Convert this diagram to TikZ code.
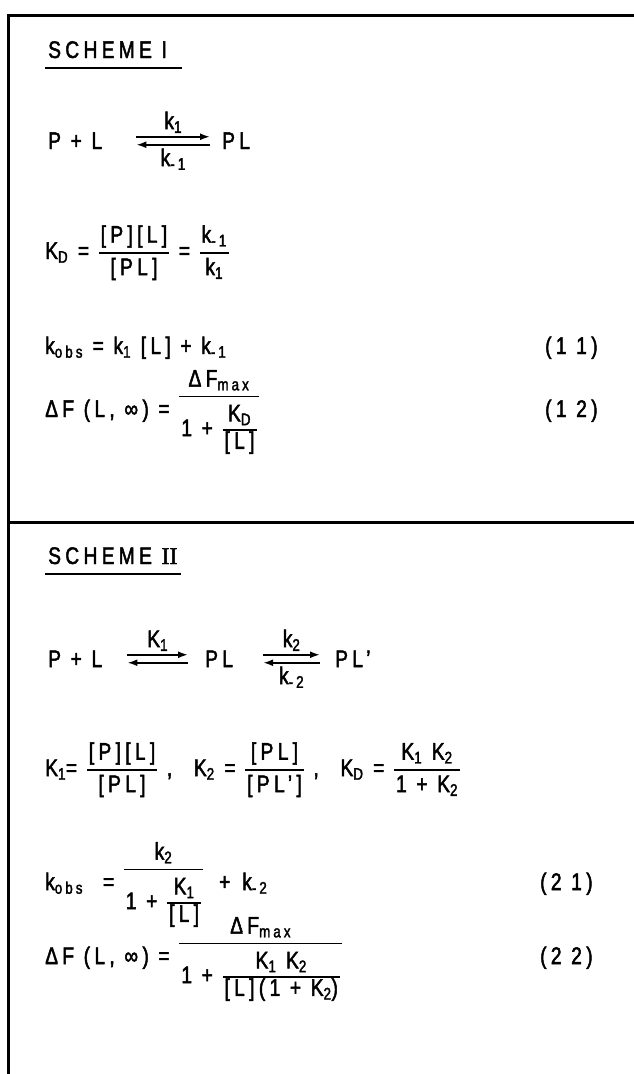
\documentclass[tikz,border=0pt]{standalone}
\usepackage{fontspec}
\setmainfont{Liberation Sans}[FakeStretch=0.8,FakeBold=2,LetterSpace=18]
\newfontfamily\romanfont{Liberation Serif}[FakeBold=2]
\usetikzlibrary{arrows.meta,positioning}

% fractions as two-row tables with a heavy rule between the rows
\setlength{\arrayrulewidth}{1.6pt}
\newcommand{\fr}[2]{{\renewcommand{\arraystretch}{1.1}\begin{tabular}[c]{@{\hspace{2pt}}c@{\hspace{2pt}}}#1\\\hline #2\end{tabular}}}
\newcommand{\frn}[2]{{\renewcommand{\arraystretch}{1.1}\begin{tabular}[c]{@{\hspace{2pt}}c@{\hspace{2pt}}}#1\\\hline\noalign{\vskip 6pt}#2\end{tabular}}}
\newcommand{\frin}[2]{{\renewcommand{\arraystretch}{0.92}\begin{tabular}[c]{@{\hspace{2pt}}c@{\hspace{2pt}}}#1\\\hline #2\end{tabular}}}
\newcommand{\lo}[1]{\textsubscript{#1}}

\begin{document}
\begin{tikzpicture}[x=1pt, y=-1pt,
        every node/.style={anchor=base west, inner sep=0pt, font=\fontsize{24}{28}\selectfont},
        frame/.style={line width=3pt},
        uline/.style={line width=2.5pt},
        eqarrow/.style={line width=1.8pt, -{Latex[length=10pt,width=7pt]}},
        rate/.style={inner sep=3pt}]
    \useasboundingbox (0,0) rectangle (634,1074);
    % frame
    \draw[frame] (634,15) -- (8,15) -- (8,1074);
    \draw[frame] (8,522) -- (634,522);

    % scheme I
    \node (s1) at (48,58) {SCHEME I};
    \draw[uline] ([xshift=-3pt,yshift=-10pt]s1.base west) -- ([xshift=15pt,yshift=-10pt]s1.base east);
    \node (r1a) at (48,149) {P + L};
    \node (r1b) at (222,149) {PL};
    \draw[eqarrow] ([xshift=34pt,yshift=4pt]r1a.east) -- ([xshift=-12pt,yshift=4pt]r1b.west)
        node[midway, above, rate] {k\lo{1}};
    \draw[eqarrow] ([xshift=-12pt,yshift=-4pt]r1b.west) -- ([xshift=34pt,yshift=-4pt]r1a.east)
        node[midway, below, rate] {k\lo{-1}};
    \node (kd1) at (45,259) {K\lo{D} = \fr{[P][L]}{[PL]} = \fr{k\lo{-1}}{k\lo{1}}};
    \node (ko1) at (45,354) {k\lo{obs} = k\lo{1} [L] + k\lo{-1}};
    \node (n11) at (545,354) {(1 1)};
    \node (df1) at (45,417) {ΔF (L, ∞) = \frn{ΔF\lo{max}}{1 + \frin{K\lo{D}}{[L]}}};
    \node (n12) at (545,417) {(1 2)};

    % scheme II
    \node (s2) at (48,564) {SCHEME {\romanfont II}};
    \draw[uline] ([xshift=-3pt,yshift=-10pt]s2.base west) -- ([xshift=3pt,yshift=-10pt]s2.base east);
    \node (r2a) at (48,667) {P + L};
    \node (r2b) at (205,667) {PL};
    \node (r2c) at (335,667) {PL'};
    \draw[eqarrow] ([xshift=25pt,yshift=4pt]r2a.east) -- ([xshift=-17pt,yshift=4pt]r2b.west)
        node[midway, above, rate] {K\lo{1}};
    \draw[eqarrow] ([xshift=-17pt,yshift=-4pt]r2b.west) -- ([xshift=25pt,yshift=-4pt]r2a.east);
    \draw[eqarrow] ([xshift=30pt,yshift=4pt]r2b.east) -- ([xshift=-15pt,yshift=4pt]r2c.west)
        node[midway, above, rate] {k\lo{2}};
    \draw[eqarrow] ([xshift=-15pt,yshift=-4pt]r2c.west) -- ([xshift=30pt,yshift=-4pt]r2b.east)
        node[midway, below, rate] {k\lo{-2}};
    \node (k12) at (45,776) {K\lo{1}= \fr{[P][L]}{[PL]} ,\hspace{12pt} K\lo{2} = \fr{[PL]}{[PL']} ,\hspace{12pt} K\lo{D} = \fr{K\lo{1} K\lo{2}}{1 + K\lo{2}}};
    \node (ko2) at (45,890) {k\lo{obs}\hspace{20pt}= \frn{k\lo{2}}{1 + \frin{K\lo{1}}{[L]}}\hspace{16pt}+\hspace{12pt}k\lo{-2}};
    \node (n21) at (540,890) {(2 1)};
    \node (df2) at (45,964) {ΔF (L, ∞) = \frn{ΔF\lo{max}}{1 + \frin{K\lo{1} K\lo{2}}{[L](1 + K\lo{2})}}};
    \node (n22) at (540,964) {(2 2)};
\end{tikzpicture}
\end{document}
